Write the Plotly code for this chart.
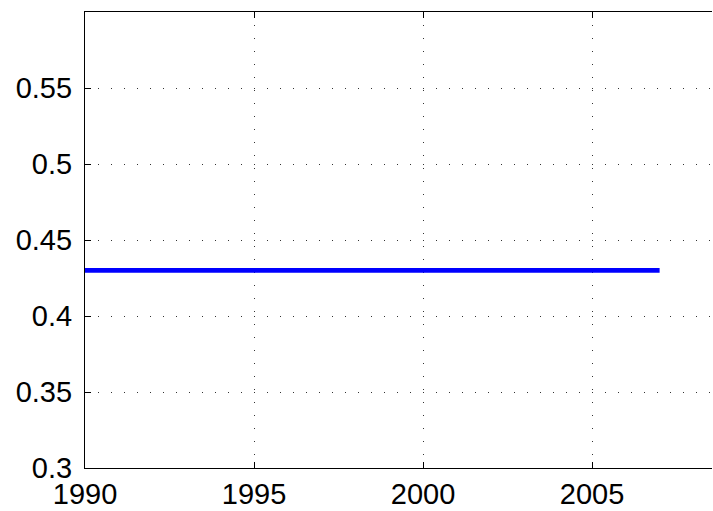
import plotly.graph_objects as go

years = [1990, 1991, 1992, 1993, 1994, 1995, 1996, 1997, 1998, 1999,
         2000, 2001, 2002, 2003, 2004, 2005, 2006, 2007]
values = [0.43] * len(years)
x_ticks = [1990, 1995, 2000, 2005]
y_ticks = [0.3, 0.35, 0.4, 0.45, 0.5, 0.55]
y_tick_labels = ["0.3", "0.35", "0.4", "0.45", "0.5", "0.55"]

fig = go.Figure()
fig.add_trace(go.Scatter(x=years, y=values, mode="lines",
                         line=dict(color="#0000ff", width=4.8), showlegend=False))
fig.add_trace(go.Scatter(x=[years[0]], y=[values[0]], xaxis="x2", mode="markers",
                         marker=dict(opacity=0), showlegend=False, hoverinfo="skip"))

font = dict(family="Liberation Sans, Arial, Helvetica, sans-serif", size=29, color="black")
xr = [1990, 2008.55]

fig.update_layout(
    width=713, height=511,
    margin=dict(l=85, r=1, t=12, b=41),
    paper_bgcolor="white", plot_bgcolor="white",
    font=font,
    xaxis=dict(range=xr, tickvals=x_ticks, ticktext=[str(v) for v in x_ticks],
               showline=True, linecolor="black", linewidth=1.2, mirror=False,
               ticks="inside", ticklen=6, tickcolor="black", tickwidth=1,
               showgrid=True, gridcolor="#333333", gridwidth=1, griddash="1px,12px",
               zeroline=False, ticklabelstandoff=0),
    xaxis2=dict(range=xr, tickvals=x_ticks, overlaying="x", side="top",
                showline=True, linecolor="black", linewidth=1.2,
                ticks="inside", ticklen=6, tickcolor="black", tickwidth=1,
                showticklabels=False, showgrid=False, zeroline=False),
    yaxis=dict(range=[0.3, 0.6], tickvals=y_ticks, ticktext=y_tick_labels,
               showline=True, linecolor="black", linewidth=1.2, mirror=False,
               ticks="inside", ticklen=6, tickcolor="black", tickwidth=1,
               showgrid=True, gridcolor="#333333", gridwidth=1, griddash="1px,12px",
               zeroline=False, ticklabelstandoff=6),
)

fig.write_html("out.html")
